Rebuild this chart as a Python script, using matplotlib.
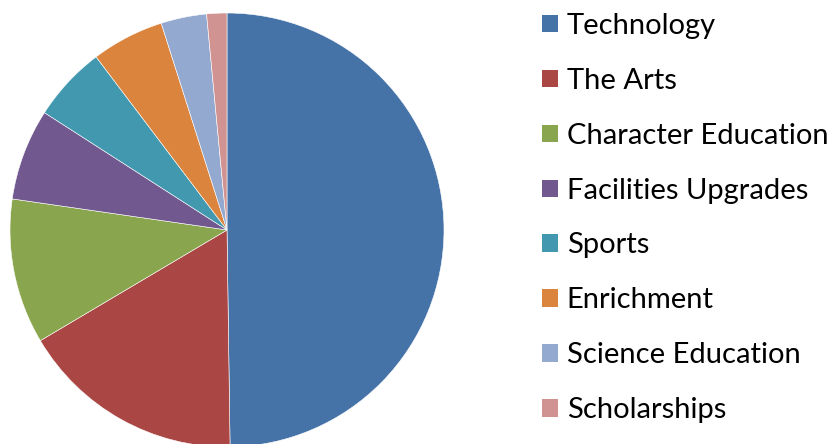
import matplotlib.pyplot as plt
from matplotlib.patches import Patch

categories = ["Technology", "The Arts", "Character Education", "Facilities Upgrades",
              "Sports", "Enrichment", "Science Education", "Scholarships"]
shares = [49.75, 16.7, 10.8, 6.8, 5.6, 5.4, 3.4, 1.5]
colors = ["#4572A7", "#AA4643", "#89A54E", "#71588F",
          "#4198AF", "#DB843D", "#93A9CF", "#D19392"]

W, H = 832, 444
fig = plt.figure(figsize=(W / 100, H / 100), dpi=100)

# pie centre (227, 230) px from top-left, radius 217 px
cx, cy, r = 227, H - 230, 217
ax = fig.add_axes([(cx - r) / W, (cy - r) / H, 2 * r / W, 2 * r / H])
ax.pie(shares, colors=colors, startangle=90, counterclock=False, radius=1,
       wedgeprops=dict(edgecolor="white", linewidth=0.4))
ax.set_xlim(-1, 1)
ax.set_ylim(-1, 1)
ax.set_aspect("equal")
ax.axis("off")

handles = [Patch(facecolor=c, edgecolor="none") for c in colors]
fig.legend(handles, categories, loc="upper left",
           bbox_to_anchor=(542 / W, 1 - 13 / H), frameon=False,
           prop={"family": "Lato", "size": 21},
           handlelength=0.55, handleheight=0.55, handletextpad=0.3,
           labelspacing=0.99, borderaxespad=0, borderpad=0)

fig.savefig("out.png", dpi=100)
